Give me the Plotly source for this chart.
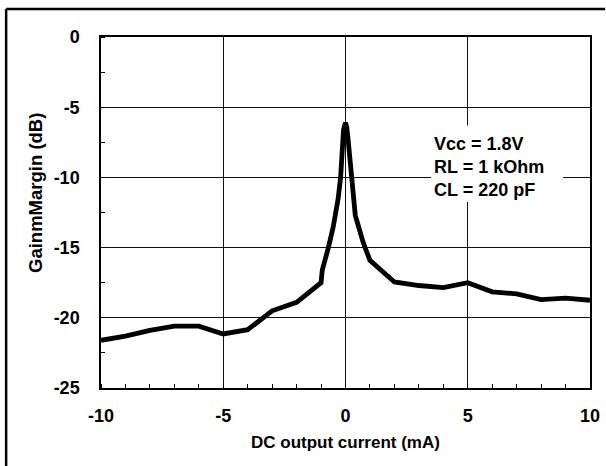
import plotly.graph_objects as go

# DC output current (mA) vs gain margin (dB)
current_ma = [-10, -9, -8, -7, -6, -5, -4, -3, -2, -1, -0.95, -0.85, -0.7, -0.5,
              -0.3, -0.2, -0.12, -0.08, 0, 0.05, 0.1, 0.2, 0.3, 0.4, 0.5, 0.6,
              0.7, 0.8, 1, 2, 3, 4, 5, 6, 7, 8, 9, 10]
gain_margin_db = [-21.6, -21.3, -20.9, -20.6, -20.6, -21.15, -20.85, -19.5, -18.9,
                  -17.5, -16.6, -16.0, -15.0, -13.5, -11.5, -10.0, -7.5, -6.6, -6.1,
                  -6.4, -7.2, -9.2, -11.2, -12.7, -13.3, -14.0, -14.5, -15.0, -15.9,
                  -17.45, -17.7, -17.85, -17.5, -18.15, -18.3, -18.7, -18.6, -18.75]

x_ticks = [-10, -5, 0, 5, 10]
x_tick_labels = ["-10", "-5", "0", "5", "10"]
y_ticks = [0, -5, -10, -15, -20, -25]
y_tick_labels = ["0", "-5", "-10", "-15", "-20", "-25"]

conditions = ["Vcc = 1.8V", "RL = 1 kOhm", "CL = 220 pF"]
condition_y = [-7.6, -9.25, -10.9]

FONT = "Arial, Liberation Sans, sans-serif"

fig = go.Figure()
fig.add_trace(go.Scatter(
    x=current_ma, y=gain_margin_db, mode="lines",
    line=dict(color="black", width=4.8), showlegend=False,
))

axis_common = dict(
    showline=True, linecolor="black", linewidth=1.5, mirror=True,
    showgrid=True, gridcolor="#111111", gridwidth=1,
    zeroline=False, ticks="", automargin=False,
    tickfont=dict(family=FONT, size=18, color="black", weight="bold"),
)

fig.update_xaxes(range=[-10, 10], tickvals=x_ticks, ticktext=x_tick_labels,
                 ticklabelstandoff=11,
                 minor=dict(ticks="inside", dtick=1, tick0=0, ticklen=4,
                            tickcolor="black", tickwidth=1, showgrid=False),
                 **axis_common)
fig.update_yaxes(range=[-25, 0], tickvals=y_ticks, ticktext=y_tick_labels,
                 ticklabelstandoff=16,
                 minor=dict(ticks="inside", dtick=2.5, tick0=0, ticklen=4,
                            tickcolor="black", tickwidth=1, showgrid=False),
                 **axis_common)

# white box behind the conditions text
fig.add_shape(type="rect", xref="x", yref="y", x0=3.5, x1=8.9, y0=-11.75, y1=-6.3,
              fillcolor="white", line=dict(width=0), layer="between")
for txt, yy in zip(conditions, condition_y):
    fig.add_annotation(x=3.55, y=yy, xref="x", yref="y", text=txt, showarrow=False,
                       xanchor="left", yanchor="middle",
                       font=dict(family=FONT, size=18, color="black", weight="bold"))

# axis titles
fig.add_annotation(x=0.5, y=-0.156, xref="paper", yref="paper",
                   text="DC output current (mA)", showarrow=False,
                   xanchor="center", yanchor="middle",
                   font=dict(family=FONT, size=17, color="black", weight="bold"))
fig.add_annotation(x=-0.134, y=0.557, xref="paper", yref="paper",
                   text="GainmMargin (dB)", showarrow=False, textangle=-90,
                   xanchor="center", yanchor="middle",
                   font=dict(family=FONT, size=18.5, color="black", weight="bold"))

# outer frame (left and top edges visible)
fig.add_shape(type="line", xref="paper", yref="paper",
              x0=-0.194, x1=1.031, y0=1.08, y1=1.08,
              line=dict(color="black", width=2.5))
fig.add_shape(type="line", xref="paper", yref="paper",
              x0=-0.194, x1=-0.194, y0=1.08, y1=-0.25,
              line=dict(color="black", width=2.5))

fig.update_layout(
    width=606, height=466,
    margin=dict(l=101, r=16, t=37, b=78),
    plot_bgcolor="white", paper_bgcolor="white",
)

fig.write_html("out.html", config={"displayModeBar": False},
               post_script="document.body.style.margin='0';")
